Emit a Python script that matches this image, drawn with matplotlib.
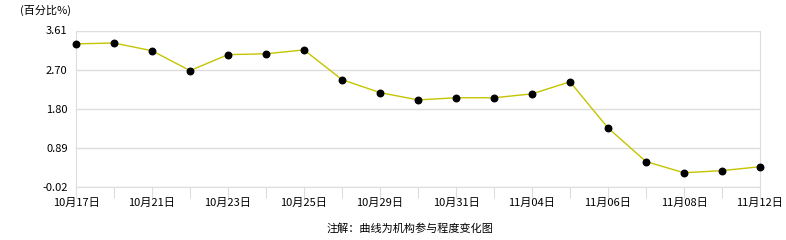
import numpy as np
import matplotlib.pyplot as plt

plt.rcParams['font.family'] = ['Noto Sans CJK SC', 'DejaVu Sans']

dates = ['10月17日', '10月19日', '10月21日', '10月22日', '10月23日', '10月24日', '10月25日',
         '10月28日', '10月29日', '10月30日', '10月31日', '11月01日', '11月04日', '11月05日',
         '11月06日', '11月07日', '11月08日', '11月11日', '11月12日']
values = [3.30, 3.32, 3.14, 2.68, 3.05, 3.07, 3.16, 2.47, 2.17, 2.00,
          2.05, 2.05, 2.14, 2.42, 1.35, 0.57, 0.31, 0.36, 0.45]
yticks = [-0.02, 0.89, 1.80, 2.70, 3.61]

fig = plt.figure(figsize=(7.86, 2.40), dpi=100)
ax = fig.add_axes([76 / 786, 1 - 187 / 240, (760 - 76) / 786, (187 - 30.5) / 240])

x = np.arange(len(values))
ax.plot(x, values, color='#c4c400', lw=1, zorder=2, clip_on=False)
ax.scatter(x, values, s=22, color='black', zorder=3, clip_on=False)

ax.set_xlim(0, len(values) - 1)
ax.set_ylim(yticks[0], yticks[-1])
ax.set_yticks(yticks)
ax.set_yticklabels([f'{v:.2f}' for v in yticks], fontsize=8)
ax.set_xticks(x)
ax.set_xticklabels([d if i % 2 == 0 else '' for i, d in enumerate(dates)], fontsize=8)

ax.grid(axis='y', color='#dddddd', lw=1)
ax.set_axisbelow(True)
for s in ax.spines.values():
    s.set_color('#dddddd')
ax.spines['top'].set_visible(False)
ax.tick_params(axis='y', length=0, pad=6)
ax.tick_params(axis='x', length=8, color='#dddddd', pad=0)

fig.text(20 / 786, 1 - 10 / 240, '(百分比%)', fontsize=8, va='center', ha='left')
fig.text(410 / 786, 1 - 228 / 240, '注解：曲线为机构参与程度变化图', fontsize=8, va='center', ha='center')

fig.savefig('out.png', dpi=100)
